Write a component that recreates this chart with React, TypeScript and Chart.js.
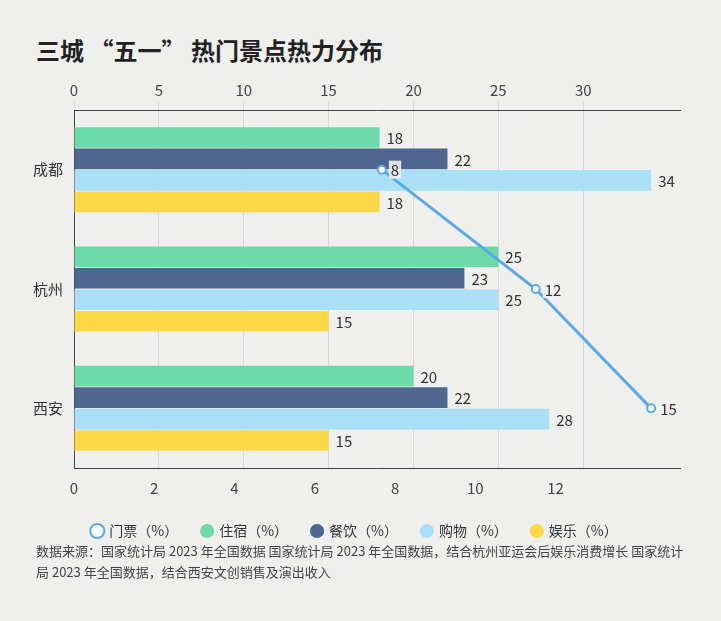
import React, { useEffect, useRef } from "react";
import { Chart, registerables } from "chart.js";
Chart.register(...registerables);

const cities = ["成都", "杭州", "西安"];
const ticket = [8, 12, 15];
const lodging = [18, 25, 20];
const dining = [22, 23, 22];
const shopping = [34, 25, 28];
const fun = [18, 15, 15];

const FONT = "'Noto Sans CJK SC', 'Noto Sans', sans-serif";

const labelPlugin = {
  id: "vals",
  afterDatasetsDraw(chart: any) {
    const ctx = chart.ctx;
    ctx.save();
    ctx.font = `15px ${FONT}`;
    ctx.fillStyle = "#333";
    ctx.textBaseline = "middle";
    chart.data.datasets.forEach((ds: any, i: number) => {
      const meta = chart.getDatasetMeta(i);
      meta.data.forEach((el: any, j: number) => {
        const v = ds.data[j];
        if (ds.type === "line") {
          const t = String(v);
          const w = ctx.measureText(t).width;
          ctx.fillStyle = "rgba(240,240,238,0.9)";
          ctx.fillRect(el.x + 7, el.y - 9, w + 4, 18);
          ctx.fillStyle = "#333";
          ctx.fillText(t, el.x + 9, el.y + 1);
        } else {
          ctx.fillText(String(v), el.x + 7, el.y + 1);
        }
      });
    });
    ctx.restore();
  },
};

export default function App() {
  const ref = useRef<HTMLCanvasElement>(null);
  useEffect(() => {
    const mk = (label: string, data: number[], color: string) => ({
      type: "bar" as const, label, data, backgroundColor: color, xAxisID: "x", pointStyle: "circle",
      categoryPercentage: 0.72, barPercentage: 0.96,
    });
    const chart = new Chart(ref.current!, {
      type: "bar",
      data: {
        labels: cities,
        datasets: [
          { type: "line", label: "门票（%）", data: ticket, xAxisID: "xLine", borderColor: "#5aaae8", backgroundColor: "#5aaae8",
            borderWidth: 3, pointRadius: 4, pointBackgroundColor: "#fff", pointBorderColor: "#5aaae8", pointBorderWidth: 2, pointStyle: "circle", order: -1 } as any,
          mk("住宿（%）", lodging, "#6ddaa9"),
          mk("餐饮（%）", dining, "#4f6690"),
          mk("购物（%）", shopping, "#a9e0f8"),
          mk("娱乐（%）", fun, "#fdd94a"),
        ],
      },
      options: {
        indexAxis: "y",
        animation: false,
        responsive: false,
        layout: { padding: { right: 20 } },
        plugins: {
          legend: {
            position: "bottom",
            labels: { usePointStyle: true, boxWidth: 10, boxHeight: 10, padding: 24, color: "#333", font: { size: 14, family: FONT } },
          },
          tooltip: { enabled: false },
        },
        scales: {
          x: {
            position: "top", min: 0, max: 35.7,
            afterBuildTicks: (a: any) => { a.ticks = a.ticks.filter((t: any) => t.value % 5 === 0); },
            ticks: { stepSize: 5, color: "#444", font: { size: 15, family: FONT } },
            grid: { color: "#d8d8d8" }, border: { color: "#444" },
          },
          xB: {
            position: "bottom", min: 0, max: 15.1,
            afterBuildTicks: (a: any) => { a.ticks = a.ticks.filter((t: any) => t.value % 2 === 0); },
            ticks: { stepSize: 2, color: "#444", font: { size: 15, family: FONT } },
            grid: { display: false }, border: { color: "#444" },
          },
          xLine: { display: false, min: 0, max: 15.75 },
          y: {
            ticks: { color: "#333", font: { size: 15, family: FONT } },
            grid: { display: false }, border: { color: "#444" },
          },
        },
      } as any,
      plugins: [labelPlugin],
    });
    return () => chart.destroy();
  }, []);
  return (
    <div style={{ position: "fixed", inset: 0, background: "#efefed", fontFamily: FONT }}>
      <div style={{ position: "absolute", left: 36, top: 32, fontSize: 24, fontWeight: 700, color: "#222" }}>
        三城 “五一” 热门景点热力分布
      </div>
      <canvas ref={ref} width={670} height={470} style={{ position: "absolute", left: 30, top: 78 }} />
      <div style={{ position: "absolute", left: 36, top: 540, width: 660, fontSize: 13, lineHeight: "21px", color: "#444" }}>
        数据来源：国家统计局 2023 年全国数据 国家统计局 2023 年全国数据，结合杭州亚运会后娱乐消费增长 国家统计局 2023 年全国数据，结合西安文创销售及演出收入
      </div>
    </div>
  );
}
